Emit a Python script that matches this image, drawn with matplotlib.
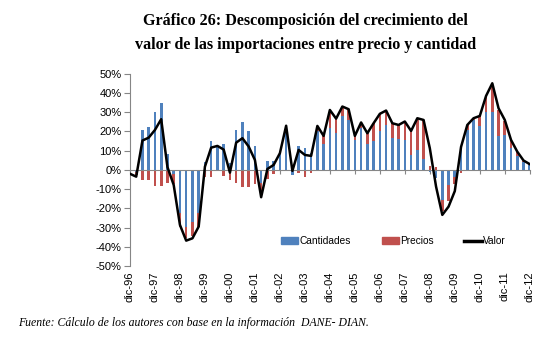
import numpy as np
import matplotlib
matplotlib.use('Agg')
import matplotlib.pyplot as plt
from matplotlib.patches import Patch
from matplotlib.lines import Line2D

# quarterly data, dic-96 .. dic-12 (growth rates, %)
years = ['96', '97', '98', '99', '00', '01', '02', '03', '04',
         '05', '06', '07', '08', '09', '10', '11', '12']
tick_labels = ['dic-' + y for y in years]

cantidades = [-1.5, -1.0, 20.8, 22.2, 30.2, 35.0, 8.5, -2.0,
              -22.6, -29.5, -27.0, -22.6, 4.0, 15.3, 12.5, 13.7,
              3.5, 20.8, 25.2, 20.0, 12.5, -7.0, 4.5, 4.9,
              9.0, 23.0, -2.5, 12.5, 11.6, 8.7, 20.0, 13.5,
              21.7, 19.0, 28.0, 26.0, 15.6, 21.7, 13.5, 14.8,
              20.5, 23.4, 16.5, 16.0, 15.6, 7.8, 10.4, 5.6,
              -1.0, -4.0, -15.6, -8.0, -3.5, 11.0, 21.0, 26.0,
              22.6, 30.4, 30.4, 17.4, 18.2, 11.3, 7.0, 4.3, 2.6]
precios = [0.0, -1.5, -5.5, -5.0, -8.5, -8.3, -7.0, -5.5,
           -7.0, -6.0, -7.5, -7.0, -3.8, -3.8, 0.0, -3.0,
           -5.0, -6.6, -8.7, -9.0, -7.3, -7.0, -4.5, -2.1,
           -0.5, 0.0, 1.5, -1.7, -3.8, -1.4, 3.0, 4.2,
           9.5, 7.7, 5.0, 5.6, 2.1, 3.0, 5.6, 9.5,
           8.7, 7.5, 7.8, 7.4, 9.6, 12.5, 16.5, 20.4,
           2.0, 1.5, -6.0, -8.0, -4.0, -1.5, 2.4, 0.9,
           5.5, 8.0, 14.0, 14.0, 7.3, 4.3, 2.3, 0.6, 0.4]
valor = [-2.0, -3.5, 15.3, 16.8, 20.8, 26.4, 1.5, -7.8,
         -28.6, -36.8, -35.6, -29.5, 1.7, 11.6, 12.5, 10.6,
         -1.4, 14.2, 16.5, 12.2, 5.2, -14.2, 0.5, 2.6,
         8.7, 23.0, -0.5, 10.4, 7.8, 7.3, 22.9, 17.7,
         31.2, 26.7, 33.0, 31.6, 17.7, 24.7, 19.1, 24.3,
         29.2, 30.9, 24.3, 23.4, 25.2, 20.3, 26.9, 26.0,
         11.3, -8.7, -23.4, -19.1, -11.0, 12.0, 23.4, 26.9,
         28.1, 38.5, 45.1, 32.1, 26.0, 15.6, 9.5, 4.9, 3.0]

C_BLUE = '#4F81BD'
C_RED = '#C0504D'
C_AXIS = '#868686'

plt.rcParams.update({
    'font.family': ['Liberation Sans', 'DejaVu Sans'],
    'font.size': 8,
})

fig = plt.figure(figsize=(5.53, 3.5), dpi=100)
ax = fig.add_axes([0.235, 0.24, 0.723, 0.549])

x = np.arange(len(valor))
c = np.array(cantidades)
p = np.array(precios)
# Excel-style stacking: positives stack upward, negatives downward
same_sign = ((c >= 0) & (p >= 0)) | ((c < 0) & (p < 0))
red_bottom = np.where(same_sign, c, 0.0)

ax.bar(x, c, width=0.42, color=C_BLUE, zorder=2)
ax.bar(x, p, bottom=red_bottom, width=0.42, color=C_RED, zorder=2)
ax.plot(x, valor, color='black', lw=1.8, zorder=4)

ax.set_xlim(0, len(valor) - 1)
ax.set_ylim(-50, 50)
ax.set_yticks(np.arange(-50, 51, 10))
ax.set_yticklabels(['%d%%' % v for v in range(-50, 51, 10)])
ax.tick_params(axis='y', direction='out', length=4, color=C_AXIS,
               labelsize=8, pad=2)

for s in ['top', 'right']:
    ax.spines[s].set_visible(False)
ax.spines['left'].set_color(C_AXIS)
ax.spines['bottom'].set_position(('data', 0))
ax.spines['bottom'].set_color(C_AXIS)
ax.spines['bottom'].set_zorder(3)

year_ticks = x[::4]
ax.set_xticks(year_ticks)
ax.tick_params(axis='x', direction='out', length=3, color=C_AXIS,
               labelbottom=False)

sec = ax.secondary_xaxis(-0.0)
sec.set_xticks(year_ticks)
sec.set_xticklabels(tick_labels, rotation=90)
sec.tick_params(length=0, labelsize=8, pad=4)
sec.spines['bottom'].set_visible(False)

handles = [Patch(color=C_BLUE, label='Cantidades'),
           Patch(color=C_RED, label='Precios'),
           Line2D([], [], color='black', lw=2.5, label='Valor')]
ax.legend(handles=handles, loc='center', bbox_to_anchor=(0.659, 0.13),
          ncol=3, frameon=False, fontsize=7.3, handlelength=1.7,
          handleheight=0.6, handletextpad=0.15, columnspacing=3.0)

title_font = ['Liberation Serif', 'DejaVu Serif']
fig.text(0.552, 0.94, 'Gráfico 26: Descomposición del crecimiento del',
         ha='center', va='center', fontsize=11.6, fontweight='bold',
         family=title_font)
fig.text(0.552, 0.872, 'valor de las importaciones entre precio y cantidad',
         ha='center', va='center', fontsize=11.6, fontweight='bold',
         family=title_font)
fig.text(0.032, 0.077,
         'Fuente: Cálculo de los autores con base en la información  DANE- DIAN.',
         ha='left', va='center', fontsize=8.5, style='italic',
         family=title_font)

fig.savefig('out.png', dpi=100)
